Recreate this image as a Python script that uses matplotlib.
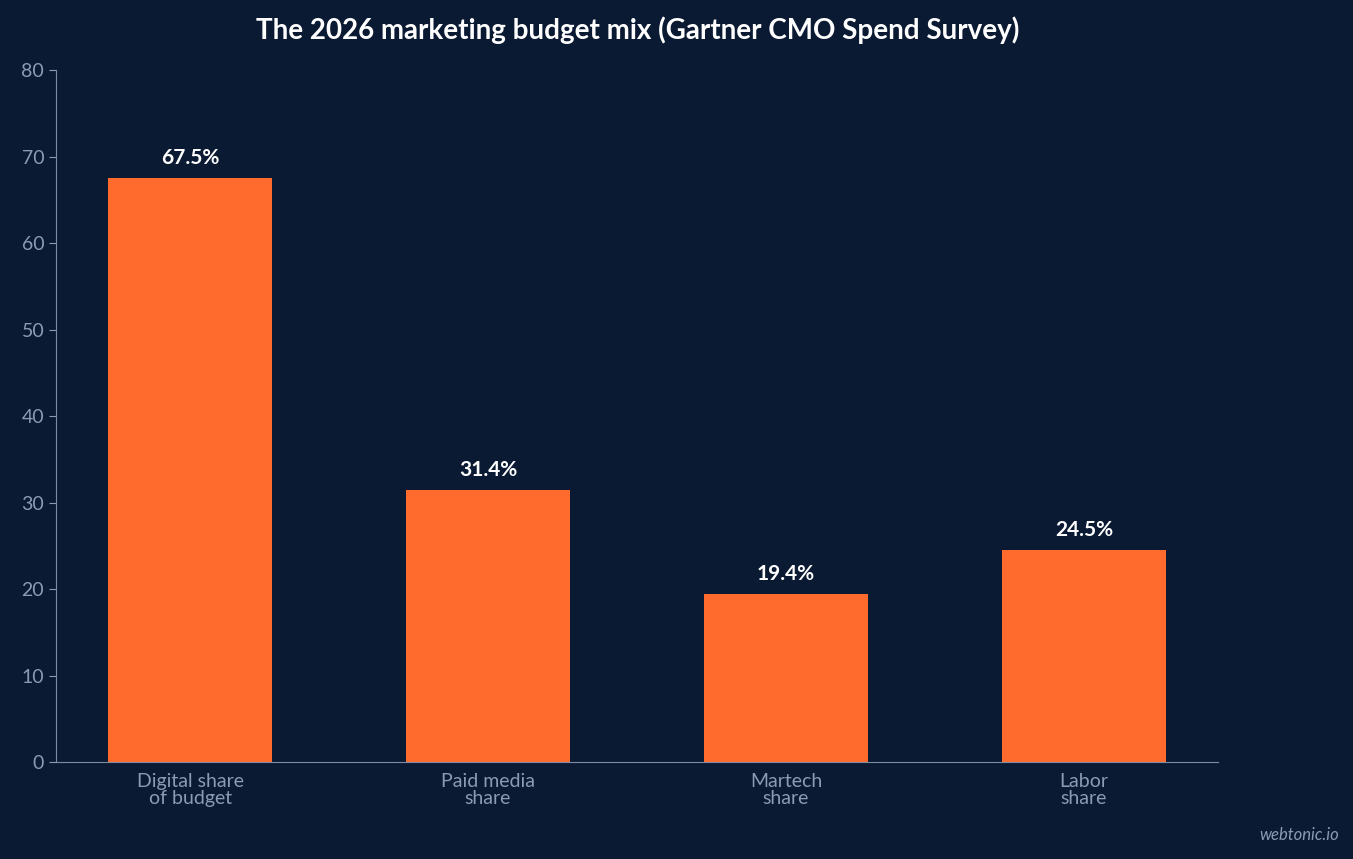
import matplotlib
matplotlib.use("Agg")
import matplotlib.pyplot as plt

categories = ["Digital share\nof budget", "Paid media\nshare", "Martech\nshare", "Labor\nshare"]
values = [67.5, 31.4, 19.4, 24.5]
labels = ["67.5%", "31.4%", "19.4%", "24.5%"]

bg = "#0b1a33"
plt.rcParams['font.family'] = ['Lato', 'DejaVu Sans']
fig = plt.figure(figsize=(13.53, 8.59), dpi=100, facecolor=bg)
ax = fig.add_axes([0.0414, 0.1129, 0.8588, 0.8056], facecolor=bg)
x = list(range(len(values)))
ax.bar(x, values, width=0.55, color="#ff6b2c", zorder=2)
for xi, v, l in zip(x, values, labels):
    ax.text(xi, v + 1.2, l, ha="center", va="bottom", color="white", fontsize=15, fontweight="bold")
ax.set_xlim(-0.45, 3.45)
ax.set_ylim(0, 80)
ax.set_yticks(range(0, 81, 10))
ax.set_xticks(x)
ax.set_xticklabels(categories)
tc = "#8b9bb4"
ax.tick_params(colors=tc, labelsize=14, length=5)
ax.tick_params(axis='x', length=0, pad=8)
for s in ["top", "right"]:
    ax.spines[s].set_visible(False)
for s in ["left", "bottom"]:
    ax.spines[s].set_color("#7d8ba3")
for t in ax.get_xticklabels():
    t.set_linespacing(1.0)
fig.text(0.4715, 0.965, "The 2026 marketing budget mix (Gartner CMO Spend Survey)", ha="center", va="center",
         color="white", fontsize=20, fontweight="bold")
fig.text(0.99, 0.028, "webtonic.io", ha="right", va="center", color="#8b9bb4", fontsize=12, style="italic")
fig.savefig("out.png", facecolor=bg)
